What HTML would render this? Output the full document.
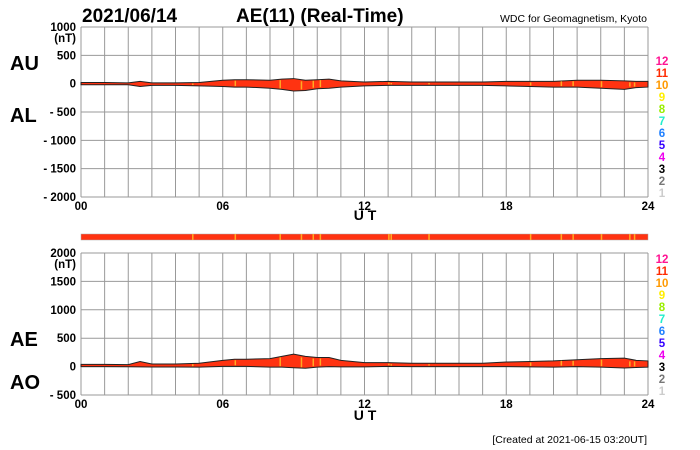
<!DOCTYPE html>
<html><head><meta charset="utf-8"><style>
body{margin:0;background:#fff;width:700px;height:450px;overflow:hidden}
svg{display:block;font-family:"Liberation Sans",Arial,sans-serif}
</style></head><body>
<svg id="c" width="700" height="450" viewBox="0 0 700 450">
<text x="82" y="22" font-size="19" font-weight="bold">2021/06/14</text>
<text x="236" y="22" font-size="19" font-weight="bold">AE(11) (Real-Time)</text>
<text x="647" y="22" font-size="10.5" text-anchor="end">WDC for Geomagnetism, Kyoto</text>
<text x="10" y="70" font-size="20" font-weight="bold">AU</text>
<text x="10" y="122" font-size="20" font-weight="bold">AL</text>
<text x="10" y="346" font-size="20" font-weight="bold">AE</text>
<text x="10" y="389" font-size="20" font-weight="bold">AO</text>
<text x="365" y="220" font-size="14" font-weight="bold" text-anchor="middle">U T</text>
<text x="365" y="420" font-size="14" font-weight="bold" text-anchor="middle">U T</text>
<text x="647" y="443" font-size="10.5" text-anchor="end">[Created at 2021-06-15 03:20UT]</text>
</svg>
<script>
const hours=[0,1,2,2.5,3,4,5,6,6.5,7,8,8.5,9,9.5,10,10.5,11,12,13,14,15,16,17,18,19,20,21,22,23,23.5,24];
const au=[20,20,15,40,15,15,20,60,70,70,60,80,90,60,70,80,50,30,40,30,30,30,30,40,40,40,60,60,50,40,40];
const al=[-20,-20,-20,-50,-30,-30,-40,-50,-60,-60,-80,-100,-130,-120,-90,-80,-60,-40,-30,-30,-30,-30,-30,-40,-50,-60,-60,-80,-100,-70,-60];
const topTicks=[1000,500,0,-500,-1000,-1500,-2000];
const botTicks=[2000,1500,1000,500,0,-500];
const xTicks=["00","06","12","18","24"];
const legendLabels=["12","11","10","9","8","7","6","5","4","3","2","1"];
const legendColors=["#ff1493","#ff2a00","#ff9900","#ffee00","#99ee00","#22eecc","#1e7fff","#3300ff","#ee00ee","#000000","#777777","#cccccc"];
const stripeHours=[4.7,6.5,8.4,9.3,9.8,10.1,13.0,13.1,14.7,19.0,20.3,20.8,22.0,23.2,23.4];

const NS="http://www.w3.org/2000/svg",svg=document.getElementById('c');
const X0=81,X1=648;
const xs=h=>X0+(X1-X0)*h/24;
function el(t,a,p){const e=document.createElementNS(NS,t);for(const k in a)e.setAttribute(k,a[k]);(p||svg).appendChild(e);return e;}
function panel(top,bot,vmax,vmin,ticks,upper,lower,name,legTop){
  const ys=v=>top+(bot-top)*(vmax-v)/(vmax-vmin);
  const g=el('g',{});
  
  
  for(let h=0;h<=24;h++){const l=el('line',{x1:xs(h),x2:xs(h),y1:top,y2:bot,stroke:'#999','stroke-width':1},g);
    }
  ticks.forEach((v,i)=>{const y=ys(v);
    const l=el('line',{x1:X0,x2:X1,y1:y,y2:y,stroke:'#999','stroke-width':1},g);
    
    const t=el('text',{x:76,y:y+4,'font-size':11.5,'font-weight':'bold','text-anchor':'end'},g);
    t.textContent=(v<0?'- '+(-v):String(v));
    
    if(i==0){const u=el('text',{x:76,y:y+15,'font-size':11.5,'font-weight':'bold','text-anchor':'end'},g);u.textContent='(nT)';
      }
  });
  xTicks.forEach((s,i)=>{const t=el('text',{x:xs(i*6),y:bot+13,'font-size':11.5,'font-weight':'bold','text-anchor':'middle'},g);t.textContent=s;
    });
  let d='M'+hours.map((h,i)=>xs(h)+','+ys(upper[i])).join('L');
  for(let i=hours.length-1;i>=0;i--)d+='L'+xs(hours[i])+','+ys(lower[i]);
  const a=el('path',{d:d+'Z',fill:'#ff3311',stroke:'#222','stroke-width':1},g);
  
  stripeHours.forEach(h=>{const i=hours.findIndex(x=>x>=h);const y1=ys(upper[i]),y2=ys(lower[i]);
    const s=el('rect',{x:xs(h),y:Math.min(y1,y2)+1,width:1.5,height:Math.abs(y2-y1)-2,fill:'#ffaa22'},g);
    });
  legendLabels.forEach((s,i)=>{const t=el('text',{x:662,y:legTop+i*12,'font-size':11.5,'font-weight':'bold','text-anchor':'middle',fill:legendColors[i]},g);t.textContent=s;
    });
}
panel(27,197,1000,-2000,topTicks,au,al,'au-al',65);
const ae=au.map((v,i)=>v-al[i]), ao=au.map((v,i)=>(v+al[i])/2);
panel(253,395,2000,-500,botTicks,ae,ao,'ae-ao',263);
const bar=el('rect',{x:X0,y:234,width:X1-X0,height:6,fill:'#ff3311',stroke:'#aaa','stroke-width':0.5});

stripeHours.forEach(h=>{const s=el('rect',{x:xs(h),y:234,width:1.5,height:6,fill:'#ffaa22'});
  });
</script>
</body></html>
